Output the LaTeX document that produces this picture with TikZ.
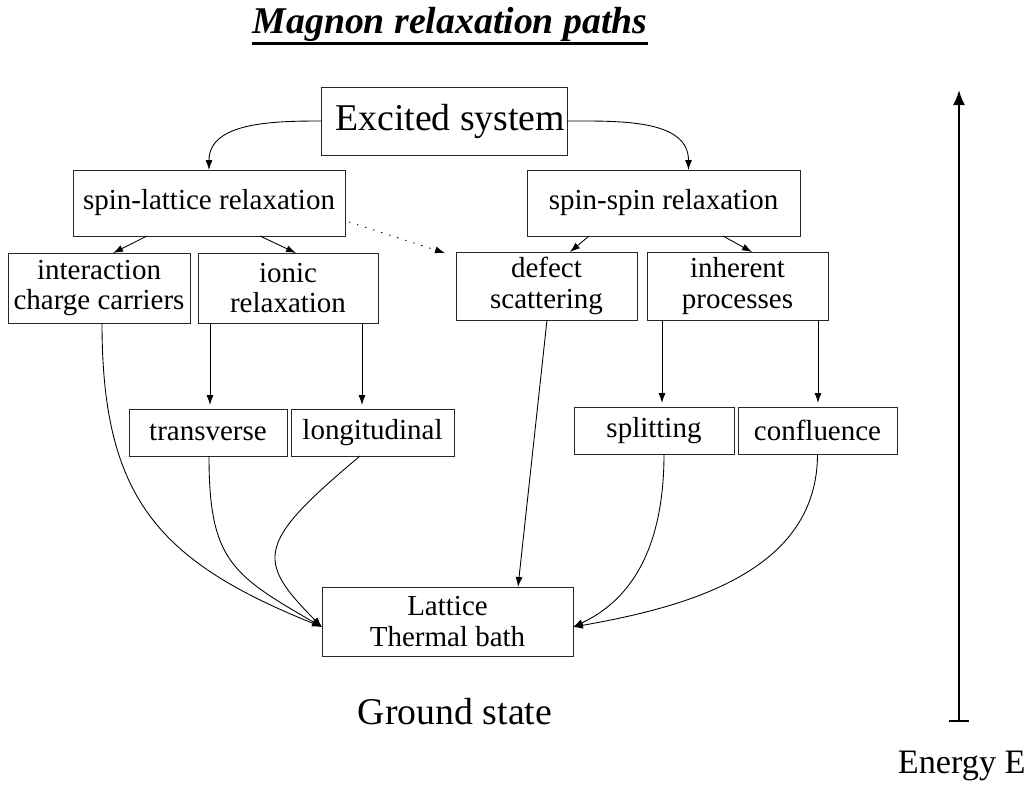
\documentclass[tikz,border=0pt]{standalone}
\usepackage{fontspec}
\setmainfont{Liberation Serif}
\usetikzlibrary{arrows.meta,calc}

\begin{document}
\begin{tikzpicture}[x=0.02cm,y=-0.02cm,
	box/.style={draw=black!85,line width=0.5pt,inner sep=0,outer sep=0,align=center,font=\fontsize{16.5}{17.5}\selectfont},
	arr/.style={-{Latex[length=2mm,width=1.4mm]},line width=0.5pt}]
	\useasboundingbox (0,0) rectangle (1028,789);
	\node[font=\fontsize{21.5}{24}\selectfont\bfseries\itshape,inner sep=0,anchor=base] (title) at (450,33) {Magnon relaxation paths};
	\draw[line width=1.3pt] ([yshift=-1.2pt]title.south west) -- ([yshift=-1.2pt]title.south east);
	\node[box,minimum width=4.92cm,minimum height=1.36cm,font=\fontsize{21.5}{25}\selectfont] (exc) at (444,121) {\hspace{0.25cm}Excited system};
	\node[box,minimum width=5.44cm,minimum height=1.32cm] (sl) at (209,203) {spin-lattice relaxation};
	\node[box,minimum width=5.46cm,minimum height=1.32cm] (ss) at (663.5,203) {spin-spin relaxation};
	\node[box,minimum width=3.64cm,minimum height=1.4cm] (icc) at (99,288) {interaction\\charge carriers};
	\node[box,minimum width=3.6cm,minimum height=1.4cm] (ion) at (288,288) {ionic\\relaxation};
	\node[box,minimum width=3.62cm,minimum height=1.36cm] (def) at (546.5,286) {defect\\scattering};
	\node[box,minimum width=3.62cm,minimum height=1.36cm] (inh) at (737.5,286) {inherent\\processes};
	\node[box,minimum width=3.16cm,minimum height=0.94cm] (tra) at (208,432.5) {transverse};
	\node[box,minimum width=3.26cm,minimum height=0.94cm] (lon) at (372.5,432.5) {longitudinal};
	\node[box,minimum width=3.2cm,minimum height=0.94cm] (spl) at (654,430.5) {splitting};
	\node[box,minimum width=3.18cm,minimum height=0.94cm] (con) at (817.5,430.5) {confluence};
	\node[box,minimum width=5.02cm,minimum height=1.38cm] (lat) at (447.5,621.5) {Lattice\\Thermal bath};
	\node[font=\fontsize{21.5}{25}\selectfont] (gs) at (455,712) {Ground state};
	\node[font=\fontsize{19.5}{24}\selectfont,anchor=east,inner sep=0] (en) at (1026,766) {Energy E};
	\coordinate (elo) at (959,722);
	\coordinate (ehi) at (959,90);
	\draw[arr] (exc.west) to[out=180,in=90] (sl.north);
	\draw[arr] (exc.east) to[out=0,in=90] ($(ss.north)+(25,0)$);
	\draw[arr] ($(sl.south)+(-62,0)$) -- ($(icc.north)+(14,0)$);
	\draw[arr] ($(sl.south)+(51,0)$) -- ($(ion.north)+(8,0)$);
	\draw[arr,dash pattern=on 0.8pt off 4pt] ($(sl.south east)+(4,-14)$) -- ($(def.north west)+(-11,1)$);
	\draw[arr] ($(ss.south)+(-74.5,0)$) -- ($(def.north)+(23.5,0)$);
	\draw[arr] ($(ss.south)+(59.5,0)$) -- ($(inh.north)+(14.5,0)$);
	\draw[arr] ($(ion.south)+(-78,0)$) -- ($(tra.north)+(2,-4)$);
	\draw[arr] ($(ion.south)+(74,0)$) -- ($(lon.north)+(-10.5,-4)$);
	\draw[arr] ($(inh.south)+(-75.5,0)$) -- ($(spl.north)+(8,-4)$);
	\draw[arr] ($(inh.south)+(80.5,0)$) -- ($(con.north)+(0.5,-4)$);
	\draw[arr] ($(icc.south)+(3,0)$) to[out=-90,in=158,looseness=1.2] ($(lat.west)+(0,5.5)$);
	\draw[arr] ($(tra.south)+(1,0)$) to[out=-90,in=150,looseness=1.3] ($(lat.west)+(0,5.5)$);
	\draw[arr] ($(lon.south)+(-12.5,0)$) to[out=-140,in=135,out distance=2.7cm,in distance=1.9cm] ($(lat.west)+(0,5.5)$);
	\draw[arr] ($(def.south)+(0.5,0)$) -- ($(lat.north)+(70.5,0)$);
	\draw[arr] ($(spl.south)+(10,0)$) to[out=-90,in=25] ($(lat.east)+(0,5.5)$);
	\draw[arr] (con.south) to[out=-90,in=10] ($(lat.east)+(0,5.5)$);
	\draw[{Bar[width=4mm]}-{Latex[length=3mm,width=2.4mm]},line width=1.2pt] (elo) -- (ehi);
\end{tikzpicture}
\end{document}
